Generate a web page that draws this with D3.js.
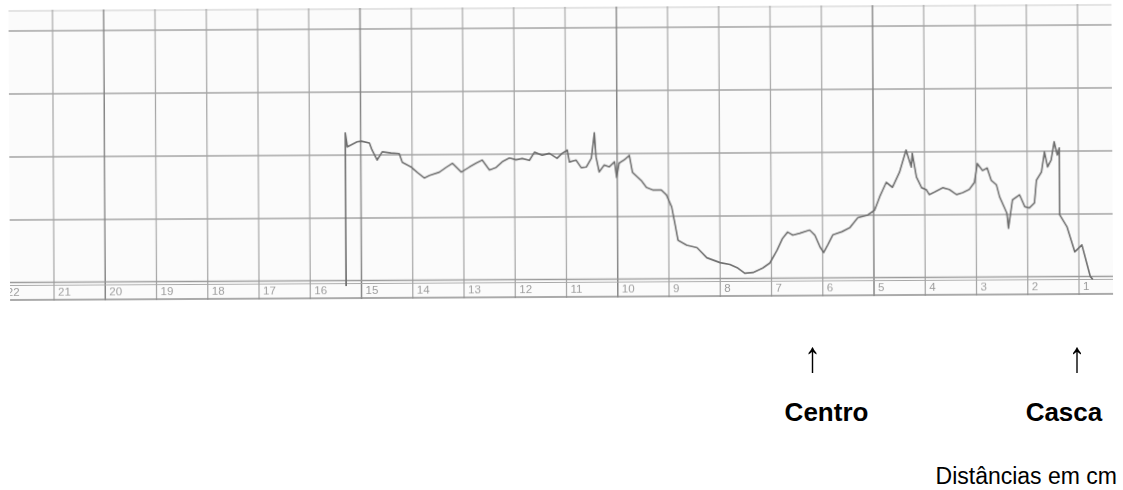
<!DOCTYPE html>
<html>
<head>
<meta charset="utf-8">
<script src="https://cdn.jsdelivr.net/npm/d3@7"></script>
<style>
  html, body { margin: 0; padding: 0; background: #fff; }
  svg { display: block; }
</style>
</head>
<body>
<svg id="chart" width="1123" height="490"></svg>
<script>
// Distance along the radius (cm), from the pith side (22) to the bark (1)
const distanceTicks = [22, 21, 20, 19, 18, 17, 16, 15, 14, 13, 12, 11, 10, 9, 8, 7, 6, 5, 4, 3, 2, 1];
// Recorder grid rows (relative density units)
const gridRows = [1, 2, 3, 4];

// Densitometer trace: position (cm) and relative reading
const traceCm = [
  15.30, 15.30, 15.26, 15.07, 14.99, 14.83, 14.78, 14.68, 14.58, 14.41,
  14.25, 14.19, 14.01, 13.90, 13.76, 13.66, 13.47, 13.33, 13.21, 13.04,
  12.88, 12.75, 12.63, 12.49, 12.36, 12.24, 12.10, 11.97, 11.85, 11.71,
  11.61, 11.46, 11.32, 11.17, 11.07, 10.97, 10.93, 10.80, 10.70, 10.60,
  10.50, 10.44, 10.41, 10.35, 10.25, 10.15, 10.05, 10.01, 9.96, 9.86,
  9.76, 9.70, 9.53, 9.43, 9.31, 9.14, 9.04, 8.94, 8.88, 8.82,
  8.65, 8.45, 8.26, 8.00, 7.81, 7.67, 7.52, 7.36, 7.17, 7.03,
  6.89, 6.78, 6.68, 6.58, 6.44, 6.25, 6.15, 6.05, 5.98, 5.90,
  5.80, 5.62, 5.47, 5.31, 5.12, 4.98, 4.88, 4.75, 4.63, 4.49,
  4.36, 4.26, 4.24, 4.16, 4.06, 3.97, 3.91, 3.81, 3.65, 3.52,
  3.38, 3.26, 3.13, 3.03, 2.97, 2.87, 2.78, 2.70, 2.60, 2.54,
  2.40, 2.37, 2.29, 2.15, 2.05, 1.96, 1.86, 1.82, 1.72, 1.66,
  1.60, 1.53, 1.47, 1.41, 1.37, 1.37, 1.23, 1.08, 0.94, 0.78,
  0.73
];
const traceValue = [
  -0.08, 2.35, 2.13, 2.21, 2.22, 2.19, 2.08, 1.92, 2.05, 2.03,
  2.02, 1.88, 1.80, 1.72, 1.63, 1.67, 1.72, 1.80, 1.86, 1.72,
  1.80, 1.86, 1.91, 1.75, 1.79, 1.88, 1.94, 1.91, 1.93, 1.90,
  2.03, 1.98, 2.01, 1.93, 2.01, 2.06, 1.87, 1.90, 1.78, 1.79,
  1.93, 2.33, 1.95, 1.71, 1.82, 1.79, 1.87, 1.62, 1.85, 1.90,
  1.97, 1.70, 1.57, 1.46, 1.42, 1.42, 1.34, 1.15, 0.89, 0.62,
  0.54, 0.50, 0.34, 0.26, 0.23, 0.18, 0.09, 0.10, 0.17, 0.25,
  0.45, 0.64, 0.74, 0.69, 0.72, 0.77, 0.69, 0.50, 0.41, 0.53,
  0.69, 0.74, 0.80, 0.96, 1.00, 1.08, 1.29, 1.52, 1.44, 1.68,
  2.03, 1.76, 1.98, 1.60, 1.43, 1.40, 1.32, 1.36, 1.43, 1.40,
  1.32, 1.35, 1.40, 1.51, 1.81, 1.70, 1.74, 1.54, 1.47, 1.28,
  1.02, 0.78, 1.23, 1.31, 1.12, 1.10, 1.18, 1.54, 1.67, 1.99,
  1.75, 1.86, 2.15, 1.94, 2.05, 0.99, 0.80, 0.40, 0.51, 0.01,
  -0.04
];

// Annotations under the strip: where each arrow points (cm)
const markerLabels = ["Centro", "Casca"];
const markerCm = [6.2, 1.04];
const unitLabel = "Distâncias em cm";

const svg = d3.select("#chart");

// Paper strip geometry
const paperLeft = 10, paperRight = 1113, paperTop = 10, paperBottom = 301;

const x = d3.scaleLinear().domain([21, 1]).range([54, 1079]);
const y = d3.scaleLinear().domain([0, 4]).range([283, 31]);

const defs = svg.append("defs");
// Soft scan look for the recorder strip only
defs.append("filter").attr("id", "soft")
  .attr("x", "-2%").attr("y", "-5%").attr("width", "104%").attr("height", "110%")
  .append("feGaussianBlur").attr("stdDeviation", 0.55);
// Neutral pass-through so the stretched arrows get plain grey antialiasing
defs.append("filter").attr("id", "flat")
  .append("feOffset").attr("dx", 0).attr("dy", 0);
defs.append("clipPath").attr("id", "paperClip")
  .append("rect")
  .attr("x", paperLeft).attr("y", paperTop - 2)
  .attr("width", paperRight - paperLeft).attr("height", paperBottom - paperTop + 4);

// The strip sits slightly askew
const paper = svg.append("g")
  .attr("transform", "rotate(-0.32, 10, 285)")
  .attr("filter", "url(#soft)");

const strip = paper.append("g").attr("clip-path", "url(#paperClip)");

strip.append("rect")
  .attr("x", paperLeft).attr("y", paperTop)
  .attr("width", paperRight - paperLeft).attr("height", paperBottom - paperTop)
  .attr("fill", "#fbfbfb");

// faint upper edge of the paper
strip.append("line")
  .attr("x1", paperLeft).attr("x2", paperRight)
  .attr("y1", paperTop + 1).attr("y2", paperTop + 1)
  .attr("stroke", "#e4e4e4").attr("stroke-width", 2);

// Horizontal grid rows
strip.selectAll("line.row").data(gridRows).join("line")
  .attr("class", "row")
  .attr("x1", paperLeft).attr("x2", paperRight)
  .attr("y1", d => y(d)).attr("y2", d => y(d))
  .attr("stroke", "#a3a3a3").attr("stroke-width", 1.3);

// Vertical distance lines (every 5 cm a little darker)
strip.selectAll("line.col").data(distanceTicks).join("line")
  .attr("class", "col")
  .attr("x1", d => x(d)).attr("x2", d => x(d))
  .attr("y1", paperTop).attr("y2", paperBottom)
  .attr("stroke", d => d % 5 === 0 ? "#858585" : "#a6a6a6")
  .attr("stroke-width", d => d % 5 === 0 ? 1.5 : 1.25);

// Base band: double line at zero and the lower ruling
strip.append("line")
  .attr("x1", paperLeft).attr("x2", paperRight)
  .attr("y1", y(0) - 0.5).attr("y2", y(0) - 0.5)
  .attr("stroke", "#9a9a9a").attr("stroke-width", 1.3);
strip.append("line")
  .attr("x1", paperLeft).attr("x2", paperRight)
  .attr("y1", y(0) + 2.5).attr("y2", y(0) + 2.5)
  .attr("stroke", "#a8a8a8").attr("stroke-width", 1.2);
strip.append("line")
  .attr("x1", paperLeft).attr("x2", paperRight)
  .attr("y1", paperBottom - 1).attr("y2", paperBottom - 1)
  .attr("stroke", "#8f8f8f").attr("stroke-width", 1.6);

// Distance numbers printed in the band
strip.selectAll("text.tick").data(distanceTicks).join("text")
  .attr("class", "tick")
  .attr("x", d => x(d) + 4)
  .attr("y", y(0) + 13)
  .attr("font-family", "Liberation Sans, Arial, sans-serif")
  .attr("font-size", 11.5)
  .attr("fill", "#9c9c9c")
  .text(d => d);

// Density trace
const traceData = traceCm.map((c, i) => ({ cm: c, v: traceValue[i] }));
const line = d3.line().x(d => x(d.cm)).y(d => y(d.v));
strip.append("path")
  .datum(traceData)
  .attr("d", line)
  .attr("fill", "none")
  .attr("stroke", "#6e6e6e")
  .attr("stroke-width", 1.7)
  .attr("stroke-linejoin", "round");

// Annotations (sharp text, outside the strip)
const font = "Liberation Sans, Arial, sans-serif";
const labelShift = [14, -13];   // label centre relative to its arrow
const markers = markerLabels.map((label, i) => ({ label, cm: markerCm[i], dx: labelShift[i] }));
const ann = svg.append("g");
ann.append("g").attr("filter", "url(#flat)")
  .selectAll("text.arrow").data(markers).join("text")
  .attr("class", "arrow")
  .attr("transform", d => `translate(${x(d.cm)},372) scale(1,1.28)`)
  .attr("text-anchor", "middle")
  .attr("font-family", font)
  .attr("font-size", 34)
  .attr("fill", "#000")
  .text("↑");
ann.selectAll("text.mk").data(markers).join("text")
  .attr("class", "mk")
  .attr("x", d => x(d.cm) + d.dx)
  .attr("y", 421)
  .attr("text-anchor", "middle")
  .attr("font-family", font)
  .attr("font-weight", "bold")
  .attr("font-size", 26)
  .attr("fill", "#000")
  .text(d => d.label);
ann.append("text")
  .attr("x", 1117)
  .attr("y", 484)
  .attr("text-anchor", "end")
  .attr("font-family", font)
  .attr("font-size", 23)
  .attr("fill", "#000")
  .text(unitLabel);
</script>
</body>
</html>
